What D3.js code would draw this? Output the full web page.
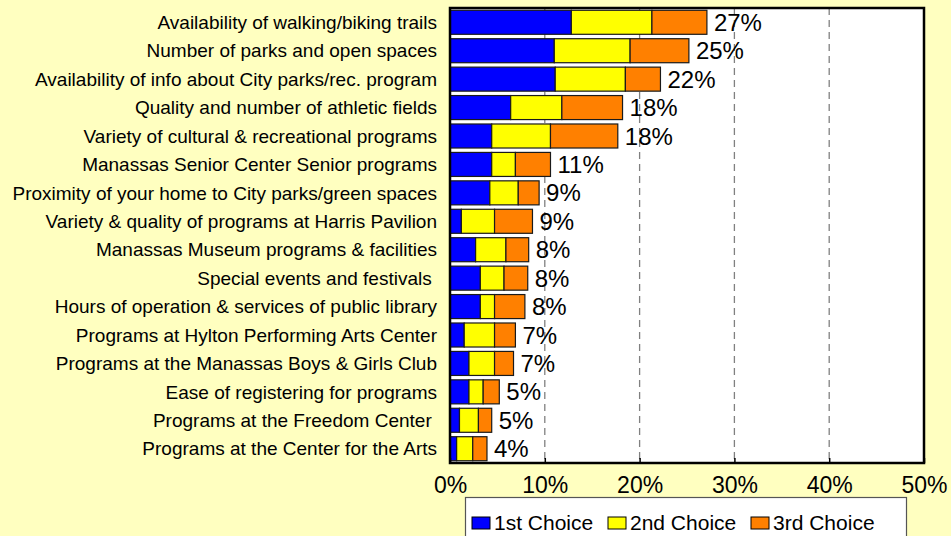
<!DOCTYPE html>
<html><head><meta charset="utf-8">
<script src="https://cdn.jsdelivr.net/npm/d3@7"></script>
<style>
html,body{margin:0;padding:0;background:#FFFFC0;}
svg{display:block;font-family:Arial,"Liberation Sans",sans-serif;}
</style></head>
<body><svg id="c" width="951" height="536"></svg>
<script>
const categories = [
  "Availability of walking/biking trails",
  "Number of parks and open spaces",
  "Availability of info about City parks/rec. program",
  "Quality and number of athletic fields",
  "Variety of cultural & recreational programs",
  "Manassas Senior Center Senior programs",
  "Proximity of your home to City parks/green spaces",
  "Variety & quality of programs at Harris Pavilion",
  "Manassas Museum programs & facilities",
  "Special events and festivals ",
  "Hours of operation & services of public library",
  "Programs at Hylton Performing Arts Center",
  "Programs at the Manassas Boys & Girls Club",
  "Ease of registering for programs",
  "Programs at the Freedom Center ",
  "Programs at the Center for the Arts"
];
const seriesNames = ["1st Choice", "2nd Choice", "3rd Choice"];
const first  = [12.8, 11.0, 11.1, 6.4, 4.4, 4.4, 4.2, 1.2, 2.7, 3.2, 3.2, 1.5, 2.0, 2.0, 1.0, 0.7];
const second = [8.5, 8.0, 7.4, 5.4, 6.2, 2.5, 3.0, 3.5, 3.2, 2.5, 1.5, 3.2, 2.7, 1.5, 2.0, 1.7];
const third  = [5.8, 6.2, 3.7, 6.4, 7.1, 3.7, 2.2, 4.0, 2.4, 2.5, 3.2, 2.2, 2.0, 1.7, 1.4, 1.5];
const totalLabels = ["27%","25%","22%","18%","18%","11%","9%","9%","8%","8%","8%","7%","7%","5%","5%","4%"];
const xTicks = [0, 10, 20, 30, 40, 50];
const colors = ["#0000FF", "#FFFF00", "#FF8000"];

const svg = d3.select("#c");
const L = 450, R = 924, T = 8, B = 463;
const x = d3.scaleLinear().domain([0, 50]).range([L, R]);
const y = d3.scaleBand().domain(categories).range([T, B]).paddingInner(0.155).paddingOuter(0.08);

// plot area
svg.append("rect").attr("x", L).attr("y", T).attr("width", R - L).attr("height", B - T).attr("fill", "#fff");

// gridlines
svg.append("g").selectAll("line").data(xTicks.slice(1, -1)).join("line")
  .attr("x1", d => x(d)).attr("x2", d => x(d)).attr("y1", T).attr("y2", B)
  .attr("stroke", "#808080").attr("stroke-width", 1.3).attr("stroke-dasharray", "7,5");

// stacked bars
const rows = categories.map((c, i) => ({cat: c, v: [first[i], second[i], third[i]]}));
const stack = d3.stack().keys([0, 1, 2]).value((d, k) => d.v[k]);
const layers = stack(rows);
svg.append("g").selectAll("g").data(layers).join("g")
  .attr("fill", (d, i) => colors[i])
  .selectAll("rect").data(d => d).join("rect")
  .attr("x", d => x(d[0])).attr("width", d => x(d[1]) - x(d[0]))
  .attr("y", d => y(d.data.cat)).attr("height", y.bandwidth())
  .attr("stroke", "#1a1a1a").attr("stroke-width", 1.2);

// data labels
svg.append("g").selectAll("text").data(rows).join("text")
  .attr("x", (d, i) => x(d3.sum(d.v)) + 7)
  .attr("y", d => y(d.cat) + y.bandwidth() / 2)
  .attr("dy", "0.36em")
  .attr("font-size", 24).attr("fill", "#000")
  .text((d, i) => totalLabels[i]);

// border
svg.append("rect").attr("x", L).attr("y", T).attr("width", R - L).attr("height", B - T)
  .attr("fill", "none").attr("stroke", "#000").attr("stroke-width", 2.5);

// y axis labels
const yAxis = d3.axisLeft(y).tickSize(0).tickPadding(13);
const gy = svg.append("g").attr("transform", `translate(${L},0)`).call(yAxis);
gy.select(".domain").remove();
gy.selectAll("text").attr("font-size", 19).attr("font-family", "Arial, 'Liberation Sans', sans-serif")
  .attr("fill", "#000").style("white-space", "pre").attr("dy", "0.35em");

// x axis
const xAxis = d3.axisBottom(x).tickValues(xTicks).tickFormat(d => d + "%").tickSize(-5).tickPadding(14);
const gx = svg.append("g").attr("transform", `translate(0,${B})`).call(xAxis);
gx.select(".domain").remove();
gx.selectAll("line").attr("stroke", "#000").attr("stroke-width", 1.5);
gx.selectAll("text").attr("font-size", 23).attr("font-family", "Arial, 'Liberation Sans', sans-serif").attr("fill", "#000");

// legend
const lg = svg.append("g");
lg.append("rect").attr("x", 465.5).attr("y", 497.5).attr("width", 441).attr("height", 45)
  .attr("fill", "#fff").attr("stroke", "#555").attr("stroke-width", 1.2);
const lx = [472, 608, 751];
const items = lg.selectAll("g").data(seriesNames).join("g")
  .attr("transform", (d, i) => `translate(${lx[i]},0)`);
items.append("rect").attr("x", 0).attr("y", 517).attr("width", 18).attr("height", 12)
  .attr("fill", (d, i) => colors[i]).attr("stroke", "#000").attr("stroke-width", 1);
items.append("text").attr("x", 22).attr("y", 530).attr("font-size", 21).attr("fill", "#000").text(d => d);
</script></body></html>
